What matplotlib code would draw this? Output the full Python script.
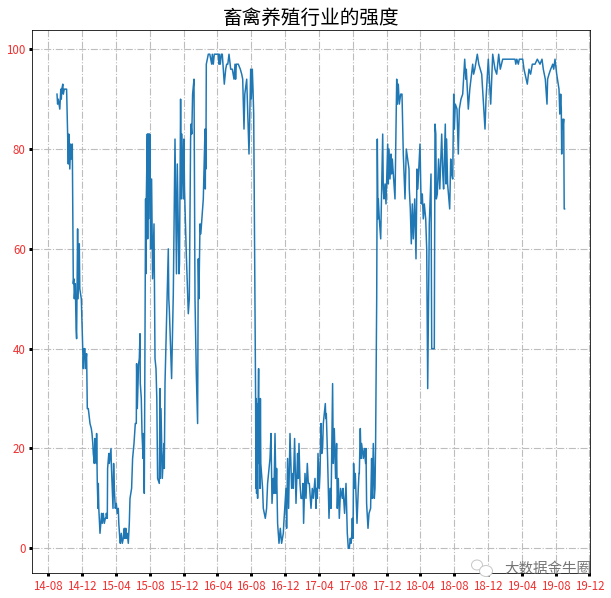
import matplotlib
matplotlib.use('Agg')
import matplotlib.pyplot as plt
from matplotlib.patches import Ellipse

plt.rcParams['font.family'] = ['Noto Sans CJK SC', 'DejaVu Sans']

tick_labels = ['14-08', '14-12', '15-04', '15-08', '15-12', '16-04', '16-08', '16-12', '17-04',
               '17-08', '17-12', '18-04', '18-08', '18-12', '19-04', '19-08', '19-12']
# steps per 4 months tick
tick_step = 33.82

# strength, in pieces
t1 = [8.7, 9.3, 10, 11.5, 12.5, 13, 13.5, 14.5, 15, 16, 18.3, 20, 20.5, 21.5, 22.3, 23, 24, 25, 25.5, 26, 27,
      27.5, 27.8, 28.3, 29.3, 29.8, 31, 31.5, 33, 35, 35.7, 36.7, 37, 38.3, 39, 40, 41.7, 43, 43.7, 44.5, 45,
      46, 46.5, 47, 48, 48.3, 48.7, 49, 49.7, 50, 50.5, 51.7, 53.3, 54, 55, 56, 57, 57.7, 58, 59, 59.3, 60.5,
      61, 62.7, 63, 64.7, 65.3, 66, 67, 68, 69, 70, 70.5, 71.5, 72, 73, 74, 75, 76, 76.5, 77.5, 78, 79, 80]
v1 = [91, 89, 90, 88, 92, 90, 92, 93, 91, 92, 92, 77, 83, 76, 81, 78, 81, 53, 54, 50, 53, 48, 44, 42, 64, 50,
      61, 52, 50, 36, 40, 40, 36, 39, 28, 28, 25, 24, 23, 21, 19, 17, 22, 18, 17, 23, 17, 13, 8, 13, 8, 3, 7,
      5, 7, 5, 6, 6, 7, 6, 16, 19, 17, 20, 17, 8, 17, 12, 8, 9, 7, 8, 5, 2, 1, 3, 1, 2, 4, 2, 4, 2, 3, 1]

t2 = [81, 81.7, 83.3, 84.3, 85.7, 86.3, 87, 88, 88.3, 89, 90.3, 91, 91.7, 92, 93, 93.7, 94.3, 94.8, 95, 96,
      97.3, 97.6, 98, 99, 99.4, 99.8, 100.2, 100.6, 101, 101.5, 102.3, 103.3, 104.3, 105.7, 106.7, 107.7, 108.5,
      109.3, 111, 111.7, 112, 112.7, 114, 115.7, 116, 116.7, 120, 120.5, 121, 123.3, 125, 126.7, 127.7, 128.2,
      129, 130.7, 131.2, 132.3, 133, 133.6, 135, 135.6, 136.2, 138, 140, 141, 142.3, 142.7, 143.5, 144.3, 145.7,
      146.7, 148, 149.3, 150, 150.6, 151.7, 152.5, 155, 156.7, 157, 157.3, 157.6]
v2 = [5, 10, 12, 18, 21, 23, 25, 25, 37, 28, 37, 38, 43, 33, 30, 23, 20, 18, 23, 11, 70, 55, 70, 83, 62, 83,
      66, 83, 70, 83, 60, 74, 54, 65, 38, 36, 30, 14, 13, 32, 14, 28, 14, 21, 16, 33, 60, 50, 48, 34, 51, 82,
      65, 55, 77, 55, 57, 90, 70, 83, 70, 82, 72, 59, 47, 50, 82, 85, 83, 91, 94, 50, 35, 25, 58, 50, 65, 63,
      70, 84, 72, 84, 76]

t3 = [158, 160, 161.5, 163.4, 164, 165, 166, 170, 170.7, 171, 172, 173, 174, 176, 177.4, 178.4, 179.5, 180.7,
      182.4, 183, 184, 185.7, 186.7, 187.3, 188, 190, 192, 193.4, 194.4, 195.7, 196.5, 198.4, 200.7, 201.3,
      202.4, 203, 204, 204.7, 205.4, 206.7, 207.3, 207.6, 208, 208.3, 208.8, 209.3, 209.8, 210.3, 210.8, 211.2,
      211.7, 212.1, 212.5, 214.3, 215,
      216, 217, 218.3, 219.3, 221.7, 222.7, 223.7, 225, 225.7, 226.7, 227.7, 228.3, 229.3, 230.7, 232, 233.3,
      235, 235.5, 236.7, 237.7, 238.3, 239.3, 240.3, 241.7, 243.3, 244.5, 245, 246.3, 247.7, 249.3, 250, 250.7,
      251.7, 252.7, 254, 254.7, 255.3, 256.7, 257.7, 259, 260, 261, 262, 262.7, 264, 265, 266.7, 267.7, 268.3,
      269, 269.7, 271, 271.7, 272.7, 273.5, 274.3, 275, 277, 277.5, 278, 279.3, 280.7]
v3 = [97, 99, 99, 97, 99, 97, 99, 99, 97, 99, 97, 99, 99, 93, 96, 97, 97, 99, 96, 96, 96, 94, 97, 94, 97, 97,
      96, 95, 94, 84, 91, 94, 79, 85, 96, 90, 96, 92, 87, 50, 30, 12, 30, 11, 29, 10, 27, 36, 17, 30, 12, 30, 17,
      12, 8, 7, 6, 8,
      13, 18, 23, 9, 14, 11, 23, 11, 16, 5, 1, 4, 1, 3, 5, 9, 12, 4, 18, 8, 23, 12, 15, 12, 22, 9, 19, 14, 21,
      13, 10, 10, 13, 5, 15, 10, 17, 13, 13, 10, 8, 12, 10, 14, 8, 12, 10, 19, 12, 15, 25, 19, 20, 25, 29, 26,
      27, 18, 6]

t4 = [281.7, 282.7, 284.3, 285, 286, 287.3, 288.3, 289, 290, 291, 292.3, 294, 294.7, 296.3, 297.7, 299, 300,
      301, 302, 302.7, 303.3, 304, 304.7, 305.3, 306, 307, 308.7, 310, 310.7, 311, 312, 312.7, 313.3, 315, 316,
      317.3, 317.7, 318.3, 319.7, 320.7, 322.3, 323.3, 324, 325, 326, 326.7, 327.3, 328.4, 329, 329.7, 330,
      331, 332.4, 334.4, 335, 335.7, 336.7, 337.7, 339.4, 340, 340.7, 341.7, 342.7, 343.3, 344, 345, 345.7, 346.7,
      348.4, 349, 350, 351, 352.4, 353.7, 355, 356.7, 358, 360.7, 361, 362, 363, 364, 365, 366.4, 367.7, 368.7,
      369.5, 371.7, 372.5, 373, 374, 375, 376, 377.4, 378.4, 379.4, 381, 382.7, 383.4, 386]
v4 = [12, 8, 33, 17, 24, 14, 21, 8, 14, 6, 12, 10, 12, 7, 13, 3, 0, 0, 2, 1, 2, 6, 2, 17, 12, 15, 5, 12, 15,
      15, 24, 18, 21, 18, 20, 17, 20, 9, 4, 7, 8, 18, 10, 21, 10, 12, 21, 50, 82, 66, 70, 66, 62, 83, 72, 70,
      73, 69, 81, 73, 80, 74, 79, 75, 78, 75, 73, 70, 94, 89, 93, 89, 91, 91, 79, 70, 80, 76, 72, 68, 61, 69,
      62, 70, 58, 76, 72, 81, 72, 69, 71, 66, 69, 66, 60, 32, 65, 75, 40, 40]

t5 = [386.7, 387.5, 388, 389, 390.3, 391.5, 393.4, 394.5, 395.3, 397, 397.7, 398.3, 399.3, 401.4, 402.4, 403.3,
      404.4, 405.4, 406, 407, 408.7, 410, 411, 412.7, 414.4, 416.4, 417.5, 418, 419, 420, 421.5, 424.4, 425.3,
      426.5, 429, 430.5, 433.4, 436.7, 437.7, 440, 442.4, 444.4, 446.7, 448.4, 450.4, 452, 454.4, 466.7, 467.5,
      468.5, 470, 471, 474.4, 475.7, 479, 480.7, 482.3, 484, 486.7, 489, 491.7, 493.7, 495, 497, 498.7, 499.3,
      500.7, 502.4, 503.5, 504.4, 505.4, 506.7, 508.4, 510.7, 511.5, 512.4, 513, 513.4, 513.7, 514.5, 515.4,
      515.9, 516.3]
v5 = [85, 83, 70, 71, 78, 72, 83, 75, 72, 85, 73, 82, 73, 68, 78, 75, 74, 91, 84, 89, 88, 79, 88, 90, 91, 98,
      94, 96, 92, 88, 92, 97, 95, 96, 99, 97, 95, 84, 90, 98, 89, 99, 96, 95, 99, 96, 98, 98, 97, 98, 97, 98,
      98, 96, 93, 96, 95, 97, 97, 98, 97, 98, 96, 94, 89, 94, 95, 96, 96.5, 97, 96, 98, 95, 92, 87, 91, 88, 79,
      86, 84, 86, 68, 68]

steps = t1 + t2 + t3 + t4 + t5
strength = v1 + v2 + v3 + v4 + v5

fig = plt.figure(figsize=(611 / 72, 598 / 72), dpi=72)
ax = fig.add_axes([32.3 / 611, 1 - 573 / 598, (590 - 32.3) / 611, (573 - 29.5) / 598])

ax.plot(steps, strength, color='#1f77b4', lw=1.5)

ax.set_xticks([i * tick_step for i in range(len(tick_labels))])
ax.set_xticklabels(tick_labels)
ax.set_xlim(-16, 541.7)
ax.set_yticks([0, 20, 40, 60, 80, 100])
ax.tick_params(axis='both', colors='black', labelcolor='#f03030', width=3, length=3, labelsize=11.5)
ax.grid(True, linestyle='-.', color='#bdbdbd', lw=1.1)

ax.set_title('畜禽养殖行业的强度', fontsize=19.6, pad=6)

# watermark
fig.text(591 / 611, 1 - 569 / 598, '大数据金牛圈', ha='right', va='center', fontsize=14.5, color='#666666', alpha=0.9)
fig.add_artist(Ellipse((477 / 611, 1 - 565 / 598), 11 / 611, 10 / 598, fc='white', ec='#c8c8c8', lw=1))
fig.add_artist(Ellipse((486 / 611, 1 - 571 / 598), 13 / 611, 11 / 598, fc='white', ec='#c8c8c8', lw=1))

plt.savefig('out.png', dpi=72)
